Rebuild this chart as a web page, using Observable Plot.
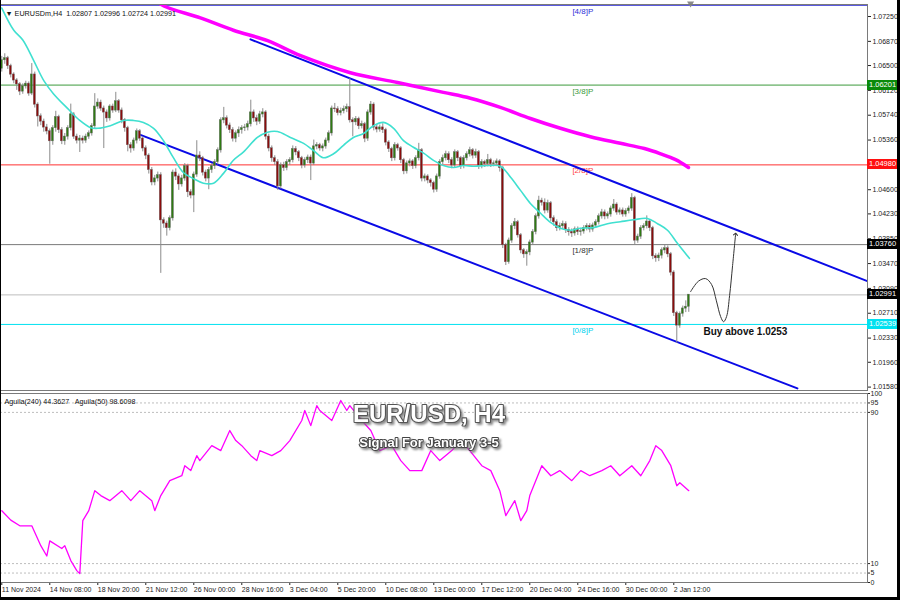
<!DOCTYPE html>
<html><head><meta charset="utf-8">
<script src="https://cdn.jsdelivr.net/npm/d3@7"></script>
<script src="https://cdn.jsdelivr.net/npm/@observablehq/plot@0.6"></script>
<style>
html,body{margin:0;padding:0;background:#fff;}
#wrap{position:relative;width:900px;height:600px;overflow:hidden;background:#fff;font-family:"Liberation Sans",Arial,sans-serif;}
#wrap svg{position:absolute;left:0;}
.tag{position:absolute;left:867px;width:33px;height:10px;line-height:10px;font-size:7.5px;color:#fff;padding-left:2px;box-sizing:border-box;}
#border{position:absolute;left:0;top:0;right:0;bottom:0;border-left:1px solid #000;border-right:3px solid #000;border-bottom:3px solid #000;pointer-events:none;}
</style></head>
<body><div id="wrap"></div>
<script>
// ---- price data (H4 bars, index 0 = 11 Nov 2024) ----
const firstOpen = 1.0645;
const closes = [1.0658,1.0661,1.0649,1.0636,1.0627,1.0621,1.0610,1.0618,1.0622,1.0607,
 1.0636,1.0590,1.0572,1.0564,1.0555,1.0549,1.0534,1.0554,1.0571,1.0551,
 1.0534,1.0541,1.0554,1.0575,1.0541,1.0535,1.0538,1.0535,1.0541,1.0546,
 1.0557,1.0587,1.0593,1.0584,1.0578,1.0569,1.0587,1.0581,1.0595,1.0581,
 1.0566,1.0554,1.0528,1.0523,1.0535,1.0549,1.0538,1.0523,1.0512,1.0490,
 1.0471,1.0477,1.0482,1.0413,1.0408,1.0401,1.0416,1.0486,1.0480,1.0468,
 1.0477,1.0496,1.0456,1.0451,1.0483,1.0512,1.0508,1.0486,1.0477,1.0490,
 1.0496,1.0502,1.0520,1.0566,1.0569,1.0558,1.0551,1.0538,1.0546,1.0551,
 1.0554,1.0555,1.0560,1.0578,1.0569,1.0564,1.0575,1.0578,1.0541,1.0523,
 1.0508,1.0502,1.0465,1.0497,1.0493,1.0502,1.0505,1.0522,1.0517,1.0508,
 1.0497,1.0505,1.0509,1.0500,1.0526,1.0528,1.0523,1.0526,1.0535,1.0546,
 1.0584,1.0583,1.0577,1.0580,1.0583,1.0586,1.0566,1.0563,1.0568,1.0557,
 1.0560,1.0538,1.0578,1.0590,1.0555,1.0552,1.0555,1.0551,1.0532,1.0522,
 1.0508,1.0528,1.0523,1.0505,1.0488,1.0500,1.0503,1.0496,1.0508,1.0520,
 1.0477,1.0480,1.0474,1.0470,1.0460,1.0480,1.0502,1.0508,1.0514,1.0505,
 1.0497,1.0517,1.0508,1.0496,1.0508,1.0514,1.0520,1.0512,1.0517,1.0496,
 1.0502,1.0499,1.0505,1.0499,1.0500,1.0503,1.0493,1.0375,1.0349,1.0382,
 1.0404,1.0410,1.0390,1.0367,1.0361,1.0364,1.0379,1.0395,1.0419,1.0443,
 1.0440,1.0428,1.0439,1.0416,1.0410,1.0401,1.0404,1.0407,1.0398,1.0395,
 1.0393,1.0399,1.0395,1.0396,1.0401,1.0404,1.0399,1.0405,1.0410,1.0419,
 1.0425,1.0419,1.0422,1.0431,1.0437,1.0425,1.0428,1.0422,1.0427,1.0431,
 1.0447,1.0382,1.0388,1.0401,1.0404,1.0411,1.0401,1.0358,1.0355,1.0359,
 1.0367,1.0370,1.0361,1.0333,1.0271,1.0252,1.0270,1.0278,1.02807,1.02991];
const highs = [1.0664,1.0668,1.0664,1.0652,1.0639,1.0630,1.0624,1.0622,1.0626,1.0625,
 1.0653,1.0640,1.0593,1.0576,1.0568,1.0560,1.0553,1.0558,1.0580,1.0574,
 1.0555,1.0546,1.0558,1.0591,1.0578,1.0545,1.0543,1.0542,1.0545,1.0550,
 1.0561,1.0607,1.0599,1.0597,1.0588,1.0582,1.0590,1.0591,1.0609,1.0598,
 1.0585,1.0569,1.0557,1.0532,1.0539,1.0553,1.0552,1.0541,1.0527,1.0515,
 1.0494,1.0482,1.0487,1.0486,1.0417,1.0412,1.0420,1.0490,1.0492,1.0484,
 1.0482,1.0500,1.0499,1.0460,1.0487,1.0535,1.0518,1.0511,1.0490,1.0494,
 1.0500,1.0506,1.0524,1.0570,1.0586,1.0573,1.0562,1.0555,1.0550,1.0556,
 1.0558,1.0560,1.0565,1.0597,1.0582,1.0574,1.0580,1.0584,1.0581,1.0545,
 1.0527,1.0512,1.0506,1.0501,1.0502,1.0506,1.0509,1.0527,1.0526,1.0520,
 1.0511,1.0509,1.0513,1.0513,1.0536,1.0532,1.0531,1.0530,1.0539,1.0550,
 1.0588,1.0592,1.0587,1.0585,1.0588,1.0591,1.0630,1.0570,1.0572,1.0571,
 1.0565,1.0563,1.0582,1.0595,1.0593,1.0560,1.0559,1.0561,1.0554,1.0535,
 1.0525,1.0532,1.0531,1.0526,1.0508,1.0504,1.0507,1.0506,1.0512,1.0531,
 1.0523,1.0484,1.0483,1.0477,1.0473,1.0484,1.0506,1.0513,1.0519,1.0518,
 1.0509,1.0521,1.0520,1.0511,1.0512,1.0518,1.0525,1.0523,1.0522,1.0520,
 1.0506,1.0505,1.0514,1.0508,1.0504,1.0507,1.0506,1.0496,1.0378,1.0386,
 1.0408,1.0416,1.0413,1.0393,1.0370,1.0368,1.0383,1.0399,1.0423,1.0450,
 1.0447,1.0446,1.0444,1.0442,1.0420,1.0414,1.0409,1.0412,1.0411,1.0402,
 1.0400,1.0403,1.0403,1.0401,1.0405,1.0408,1.0408,1.0409,1.0414,1.0423,
 1.0430,1.0429,1.0426,1.0435,1.0445,1.0440,1.0432,1.0432,1.0431,1.0435,
 1.0454,1.0450,1.0392,1.0405,1.0408,1.0420,1.0414,1.0404,1.0362,1.0363,
 1.0371,1.0375,1.0374,1.0364,1.0336,1.0274,1.0273,1.0282,1.0290,1.02996];
const lows = [1.0640,1.0652,1.0644,1.0631,1.0622,1.0612,1.0604,1.0606,1.0614,1.0603,
 1.0604,1.0585,1.0556,1.0558,1.0548,1.0544,1.0499,1.0528,1.0548,1.0546,
 1.0529,1.0528,1.0536,1.0550,1.0537,1.0530,1.0517,1.0530,1.0531,1.0537,
 1.0542,1.0553,1.0583,1.0580,1.0523,1.0563,1.0565,1.0577,1.0578,1.0577,
 1.0561,1.0548,1.0518,1.0516,1.0519,1.0530,1.0534,1.0518,1.0506,1.0484,
 1.0466,1.0466,1.0472,1.0332,1.0401,1.0389,1.0397,1.0412,1.0474,1.0459,
 1.0464,1.0473,1.0448,1.0446,1.0425,1.0479,1.0503,1.0481,1.0472,1.0460,
 1.0485,1.0491,1.0498,1.0516,1.0561,1.0553,1.0546,1.0533,1.0532,1.0540,
 1.0545,1.0549,1.0550,1.0556,1.0563,1.0558,1.0560,1.0570,1.0536,1.0518,
 1.0502,1.0497,1.0459,1.0461,1.0488,1.0489,1.0497,1.0501,1.0512,1.0503,
 1.0492,1.0493,1.0500,1.0474,1.0497,1.0521,1.0519,1.0518,1.0522,1.0531,
 1.0542,1.0578,1.0573,1.0573,1.0576,1.0578,1.0562,1.0541,1.0558,1.0552,
 1.0553,1.0532,1.0534,1.0574,1.0550,1.0547,1.0548,1.0546,1.0527,1.0517,
 1.0503,1.0504,1.0519,1.0500,1.0483,1.0484,1.0495,1.0491,1.0492,1.0504,
 1.0472,1.0472,1.0469,1.0464,1.0455,1.0456,1.0476,1.0498,1.0504,1.0500,
 1.0492,1.0493,1.0503,1.0491,1.0492,1.0504,1.0510,1.0507,1.0508,1.0491,
 1.0492,1.0494,1.0495,1.0494,1.0495,1.0496,1.0487,1.0370,1.0344,1.0346,
 1.0378,1.0399,1.0386,1.0362,1.0355,1.0343,1.0359,1.0375,1.0391,1.0415,
 1.0435,1.0423,1.0424,1.0411,1.0404,1.0396,1.0397,1.0399,1.0393,1.0389,
 1.0387,1.0389,1.0390,1.0389,1.0392,1.0397,1.0394,1.0395,1.0401,1.0406,
 1.0415,1.0414,1.0415,1.0418,1.0427,1.0421,1.0421,1.0418,1.0418,1.0423,
 1.0427,1.0376,1.0378,1.0384,1.0397,1.0400,1.0396,1.0353,1.0349,1.0350,
 1.0354,1.0362,1.0356,1.0328,1.0266,1.0225,1.0248,1.0265,1.0272,1.02724];

// moving averages (bar index, price)
const maFastIdx = [0,4,7,10.6,14,17.2,22,26,29.6,32,36.2,40.6,43.9,47.2,50.6,53.9,57.2,60.6,63.9,67.2,70.6,73.9,77.2,80.6,85.2,88.6,91.9,96.2,100.6,103.9,107.2,110.6,113.9,117.2,120.6,123.9,127.2,130.6,133.9,137.2,140.6,143.9,147.2,150.6,153.9,157.2,161.9,166.2,169.6,172.9,176.2,179.6,182.9,186.2,189.6,192.9,197.2,201.9,206.2,210.6,215.2,218.6,221.9,225.2,229.2];
const maFastVal = [1.0738,1.0704,1.0689,1.0658,1.0627,1.0607,1.0584,1.0566,1.0555,1.0554,1.0558,1.0566,1.0566,1.0563,1.0554,1.0535,1.0509,1.0486,1.0477,1.0470,1.0470,1.0485,1.0505,1.0518,1.0540,1.0548,1.0549,1.0540,1.0531,1.0520,1.0509,1.0515,1.0528,1.0540,1.0546,1.0558,1.0563,1.0554,1.0535,1.0525,1.0516,1.0505,1.0497,1.0494,1.0497,1.0496,1.0497,1.0496,1.0479,1.0459,1.0439,1.0424,1.0410,1.0401,1.0398,1.0401,1.0402,1.0408,1.0411,1.0414,1.0416,1.0408,1.0398,1.0378,1.0355];
const maSlowIdx = [50,52.9,66.2,77.2,88.6,99.6,116.2,131.9,147.2,156.2,166.2,176.2,186.2,196.2,206.2,214.2,219.6,224.6,228.9];
const maSlowVal = [1.0760,1.0744,1.0723,1.0704,1.0688,1.0665,1.0639,1.0624,1.0609,1.0600,1.0586,1.0569,1.0554,1.0541,1.0531,1.0523,1.0515,1.0506,1.0494];

// trend channel
const channelUpperIdx = [82.9, 288.6];
const channelUpperVal = [1.0690, 1.0320];
const channelLowerIdx = [46.2, 265.2];
const channelLowerVal = [1.0544, 1.0156];

// Murrey levels
const levelNames = ["[4/8]P","[3/8]P","[2/8]P","[1/8]P","[0/8]P"];
const levelValues = [1.07422, 1.06201, 1.04980, 1.03760, 1.02539];
const levelColors = ["#2f2fd8","#3c9a3c","#ff3030","#7a7a7a","#00e1f0"];
const levelTextColors = ["#2f2fd8","#3c9a3c","#ff4040","#333333","#00d0ee"];
const currentPrice = 1.02991;

// price tags on the right axis
const tagValues = [1.06201, 1.04980, 1.03760, 1.02991, 1.02539];
const tagColors = ["#0a8a0a","#ff1010","#000000","#000000","#00e1f0"];

// right axis ticks
const priceTicks = [1.0725,1.0687,1.0650,1.0612,1.0574,1.0536,1.0498,1.0460,1.0423,1.0385,1.0347,1.0309,1.0271,1.0233,1.0196,1.0158];

// chart shift marker position (bar index)
const shiftMarkerIdx = [229.6];

// forecast arrow path (bar index, price)
const arrowIdx = [229.6,232.2,234.6,236.6,238.2,239.6,240.6,241.6,242.6,243.6,244.6];
const arrowVal = [1.0304,1.0320,1.0324,1.0315,1.0290,1.0266,1.0258,1.0266,1.0298,1.0344,1.0392];

// Aguila oscillator (bar index, value)
const aguilaIdx = [0,3,6,10,13,15,16,20,21,23,25,26,27,29,31,33,36,40,43,46,50,51,53,56,60,61,63,65,66,70,73,76,78,80,83,85,86,90,93,96,100,101,103,105,106,110,113,115,116,120,123,126,130,133,136,140,143,146,150,153,156,160,163,166,168,170,171,173,175,176,180,183,186,190,193,196,200,203,206,210,213,216,218,220,223,225,226,229];
const aguilaVal = [38,33,30,30,19.5,14,22,18,19.5,11.6,6.3,4.7,32.7,38,48.6,46,43.3,48.6,43.3,48.6,43.3,38,46,53.9,56.5,61.8,59.2,67.1,64.5,72.4,69.8,80.4,75.1,72.4,67.1,64.5,69.8,67.1,69.8,75.1,85.7,91,83,93.6,91,85.7,96.3,91,93.6,85.7,80.4,69.8,72.4,64.5,59.2,59.2,69.8,64.5,69.8,75.1,69.8,61.8,59.2,48.6,35.4,40.7,43.3,32.7,38,46,61.8,56.5,59.2,53.9,59.2,56.5,59.2,61.8,56.5,61.8,56.5,64.5,72.4,69.8,61.8,51.2,52.8,48.6];
const aguilaLevels = [95, 90, 10, 5];
const aguilaTicks = [100, 95, 90, 10, 5, 0];

// time axis
const timeTickIdx = [0,16,32,48,64,80,96,112,128,144,160,176,192,208,224];
const timeTickLabels = ["11 Nov 2024","14 Nov 08:00","18 Nov 20:00","21 Nov 12:00","26 Nov 00:00","28 Nov 16:00","3 Dec 04:00","5 Dec 20:00","10 Dec 08:00","13 Dec 00:00","17 Dec 12:00","20 Dec 04:00","24 Dec 16:00","30 Dec 00:00","2 Jan 12:00"];

// texts
const headerText = "\u25BC EURUSDm,H4  1.02807 1.02996 1.02724 1.02991";
const aguilaText = "Aguila(240) 44.3627   Aguila(50) 98.6098";
const titleText = "EUR/USD, H4";
const subtitleText = "Signal For January 3-5";
const buyText = "Buy above 1.0253";

// ---- build ----
const bars = closes.map((c, i) => ({i, o: i === 0 ? firstOpen : closes[i-1], h: highs[i], l: lows[i], c}));
const zip = (xs, ys) => xs.map((x, k) => ({i: x, v: ys[k]}));
const levels = levelNames.map((n, k) => ({name: n, value: levelValues[k], color: levelColors[k], tcolor: levelTextColors[k]}));
const xDomain = [-0.43, 288.57];
const font = "'Liberation Sans', Arial, sans-serif";
const bull = "#2f7a12", bear = "#8a0c0c";

const topChart = Plot.plot({
  width: 900, height: 392,
  marginLeft: 0, marginRight: 33, marginTop: 4, marginBottom: 2,
  x: {domain: xDomain, axis: null},
  y: {domain: [1.01528, 1.07434], axis: null},
  style: {fontFamily: font, background: "transparent", overflow: "visible"},
  marks: [
    Plot.ruleY([currentPrice], {stroke: "#bdbdbd", strokeWidth: 1}),
    Plot.ruleY(levels, {y: "value", stroke: "color", strokeWidth: 1}),
    Plot.text(levels, {x: 190.2, y: "value", text: "name", fill: "tcolor", dy: 6, textAnchor: "start", fontSize: 8}),
    Plot.line(zip(channelUpperIdx, channelUpperVal), {x: "i", y: "v", stroke: "#0a0ae6", strokeWidth: 2, clip: true}),
    Plot.line(zip(channelLowerIdx, channelLowerVal), {x: "i", y: "v", stroke: "#0a0ae6", strokeWidth: 2, clip: true}),
    Plot.line(zip(maSlowIdx, maSlowVal), {x: "i", y: "v", stroke: "#ff00ff", strokeWidth: 3.5, curve: "catmull-rom", clip: true}),
    Plot.ruleX(bars, {x: "i", y1: "l", y2: "h", stroke: "#8c8c8c", strokeWidth: 1}),
    Plot.rect(bars, {x1: d => d.i - 0.34, x2: d => d.i + 0.34, y1: d => Math.min(d.o, d.c), y2: d => Math.max(d.o, d.c) + 0.00004,
      fill: d => d.c >= d.o ? bull : bear, stroke: "#6a6a6a", strokeWidth: 0.4}),
    Plot.line(zip(maFastIdx, maFastVal), {x: "i", y: "v", stroke: "#40e0d0", strokeWidth: 1.6, curve: "catmull-rom", clip: true}),
    Plot.line(zip(arrowIdx, arrowVal), {x: "i", y: "v", stroke: "#333", strokeWidth: 1, curve: "catmull-rom", markerEnd: "arrow"}),
    Plot.text([buyText], {x: 233.9, y: 1.0242, text: d => d, textAnchor: "start", fontWeight: "bold", fontSize: 10, fill: "#111"}),
    Plot.text([headerText], {frameAnchor: "top-left", dx: 5, dy: 6, textAnchor: "start", fontSize: 7.2, fill: "#111"}),
    Plot.dot(shiftMarkerIdx, {x: d => d, frameAnchor: "top", symbol: "triangle", rotate: 180, r: 2.6, fill: "#8a8a8a", stroke: "none", dy: -1}),
    Plot.axisY(priceTicks, {anchor: "right", label: null, tickSize: 3, tickPadding: 2, tickFormat: d3.format(".5f"), fontSize: 7, color: "#222"}),
    Plot.frame({stroke: "#7a7a7a"})
  ]
});
topChart.style.top = "0px";

const botChart = Plot.plot({
  width: 900, height: 208,
  marginLeft: 0, marginRight: 33, marginTop: 1, marginBottom: 18,
  x: {domain: xDomain, axis: null},
  y: {domain: [0, 100], axis: null},
  style: {fontFamily: font, background: "transparent", overflow: "visible"},
  marks: [
    Plot.ruleY(aguilaLevels, {stroke: "#bdbdbd", strokeDasharray: "2,2"}),
    Plot.line(zip(aguilaIdx, aguilaVal), {x: "i", y: "v", stroke: "#ff00ff", strokeWidth: 1.3}),
    Plot.text([titleText], {frameAnchor: "top", dx: -5, dy: 11, text: d => d, fontSize: 24, fontWeight: "bold", fill: "white", stroke: "#555", strokeWidth: 2.2, paintOrder: "stroke"}),
    Plot.text([subtitleText], {frameAnchor: "top", dx: -5, dy: 44, text: d => d, fontSize: 13, fontWeight: "bold", fill: "white", stroke: "#444", strokeWidth: 2, paintOrder: "stroke"}),
    Plot.text([aguilaText], {frameAnchor: "top-left", dx: 4, dy: 5, textAnchor: "start", fontSize: 7.2, fill: "#111"}),
    Plot.axisY(aguilaTicks, {anchor: "right", label: null, tickSize: 2, tickPadding: 1, fontSize: 7, color: "#222"}),
    Plot.axisX(timeTickIdx, {anchor: "bottom", label: null, tickSize: 3, tickPadding: 2, textAnchor: "start", fontSize: 7, color: "#222",
      tickFormat: d => timeTickLabels[timeTickIdx.indexOf(d)]}),
    Plot.frame({stroke: "#7a7a7a"})
  ]
});
botChart.style.top = "392px";

// embossed look for the title texts (drop shadow)
d3.select(botChart).selectAll("text")
  .filter(function() { const t = this.textContent; return t === titleText || t === subtitleText; })
  .style("filter", "drop-shadow(2px 2px 1px rgba(110,110,110,0.8))");

const wrap = document.getElementById("wrap");
wrap.appendChild(topChart);
wrap.appendChild(botChart);

const ys = topChart.scale("y");
tagValues.forEach((v, k) => {
  const d = document.createElement("div");
  d.className = "tag";
  d.style.top = (ys.apply(v) - 5) + "px";
  d.style.background = tagColors[k];
  d.textContent = v.toFixed(5);
  wrap.appendChild(d);
});
const b = document.createElement("div");
b.id = "border";
wrap.appendChild(b);
</script>
</body></html>
